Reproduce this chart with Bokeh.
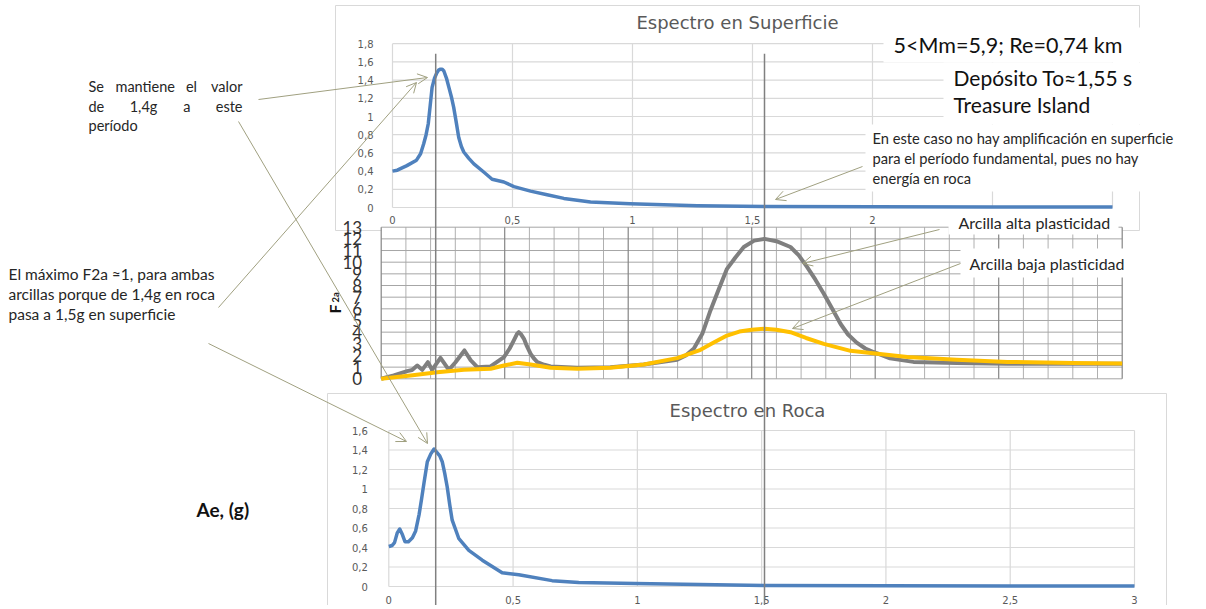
import numpy as np
from bokeh.plotting import figure
from bokeh.models import Range1d, Arrow, OpenHead
from bokeh.core.properties import value
from bokeh.embed import file_html
from bokeh.resources import INLINE

# ---------------- data ----------------
# Espectro en Superficie (period s, Sa g)
SUP_T = [0, 0.02, 0.06, 0.10, 0.117, 0.13, 0.14, 0.149, 0.157, 0.165, 0.175, 0.183, 0.192, 0.20,
         0.207, 0.214, 0.225, 0.235, 0.245, 0.255, 0.266, 0.276, 0.287, 0.297, 0.318, 0.339, 0.38, 0.415,
         0.464, 0.506, 0.575, 0.644, 0.714, 0.825, 0.99, 1.27, 1.55, 2.0, 2.5, 3.0]
SUP_SA = [0.40, 0.41, 0.46, 0.52, 0.59, 0.70, 0.80, 0.92, 1.12, 1.32, 1.42, 1.47, 1.51, 1.52,
          1.52, 1.50, 1.42, 1.32, 1.22, 1.10, 0.93, 0.77, 0.67, 0.61, 0.54, 0.48, 0.39, 0.31,
          0.28, 0.23, 0.18, 0.14, 0.10, 0.06, 0.04, 0.02, 0.01, 0.008, 0.006, 0.005]

# Espectro en Roca
ROC_T = [0, 0.013, 0.023, 0.034, 0.044, 0.055, 0.065, 0.079, 0.095, 0.108,
         0.122, 0.132, 0.142, 0.155, 0.169, 0.182, 0.195, 0.205, 0.215, 0.225, 0.235, 0.245, 0.255,
         0.282, 0.322, 0.376, 0.456, 0.523, 0.657, 0.764, 0.99, 1.53, 2.0, 2.5, 3.0]
ROC_SA = [0.41, 0.42, 0.45, 0.55, 0.59, 0.53, 0.46, 0.46, 0.50, 0.57,
          0.74, 0.90, 1.07, 1.28, 1.36, 1.41, 1.37, 1.34, 1.28, 1.16, 1.02, 0.84, 0.68,
          0.49, 0.37, 0.27, 0.14, 0.12, 0.06, 0.04, 0.03, 0.01, 0.007, 0.005, 0.004]

# F2a - Arcilla alta plasticidad
ALTA_T = [0, 0.051, 0.105, 0.125, 0.146, 0.166, 0.189, 0.206, 0.240, 0.274,
          0.300, 0.337, 0.362, 0.389, 0.443, 0.497, 0.52, 0.537, 0.55, 0.557,
          0.565, 0.578, 0.59, 0.605, 0.62, 0.632, 0.66, 0.686, 0.794, 0.928,
          1.063, 1.198, 1.233, 1.266, 1.30, 1.333, 1.367, 1.40, 1.434, 1.468,
          1.51, 1.552, 1.60, 1.657, 1.69, 1.724, 1.758, 1.792, 1.826, 1.86,
          1.89, 1.925, 1.96, 1.993, 2.06, 2.155, 2.33, 2.535, 2.8, 3.0]
ALTA_F = [0, 0.29, 0.66, 0.75, 1.14, 0.77, 1.43, 0.77, 1.8, 0.77,
          1.4, 2.43, 1.6, 1.0, 1.06, 1.86, 2.6, 3.3, 3.85, 4.0,
          3.85, 3.43, 2.8, 2.14, 1.7, 1.43, 1.2, 1.06, 0.94, 1.0,
          1.23, 1.63, 2.0, 2.6, 3.86, 5.86, 7.7, 9.43, 10.4, 11.3,
          11.85, 12.0, 11.8, 11.3, 10.6, 9.6, 8.5, 7.3, 6.0, 4.7,
          3.8, 3.1, 2.6, 2.3, 1.75, 1.45, 1.35, 1.3, 1.3, 1.3]

# F2a - Arcilla baja plasticidad
BAJA_T = [0, 0.119, 0.227, 0.335, 0.443, 0.497, 0.551, 0.605, 0.686, 0.794,
          0.928, 1.063, 1.198, 1.293, 1.35, 1.40, 1.45, 1.50, 1.552, 1.60,
          1.657, 1.72, 1.792, 1.90, 2.0, 2.13, 2.33, 2.535, 2.8, 3.0]
BAJA_F = [0, 0.29, 0.57, 0.77, 0.86, 1.14, 1.37, 1.23, 0.94, 0.86,
          0.94, 1.23, 1.77, 2.49, 3.15, 3.71, 4.05, 4.2, 4.29, 4.2,
          4.0, 3.5, 3.0, 2.4, 2.16, 1.87, 1.63, 1.45, 1.35, 1.32]

# axes ticks / labels
TOP_Y_TICKS = [0, 0.2, 0.4, 0.6, 0.8, 1.0, 1.2, 1.4, 1.6, 1.8]
TOP_Y_LABELS = ["0", "0,2", "0,4", "0,6", "0,8", "1", "1,2", "1,4", "1,6", "1,8"]
TOP_X_TICKS = [0, 0.5, 1.0, 1.5, 2.0, 2.5, 3.0]
TOP_X_LABEL_TICKS = [0, 0.5, 1.0, 1.5, 2.0]
TOP_X_LABELS = ["0", "0,5", "1", "1,5", "2"]

BOT_Y_TICKS = [0, 0.2, 0.4, 0.6, 0.8, 1.0, 1.2, 1.4, 1.6]
BOT_Y_LABELS = ["0", "0,2", "0,4", "0,6", "0,8", "1", "1,2", "1,4", "1,6"]
BOT_X_TICKS = [0, 0.5, 1.0, 1.5, 2.0, 2.5, 3.0]
BOT_X_LABELS = ["0", "0,5", "1", "1,5", "2", "2,5", "3"]

MID_X_MINOR = [0.1, 0.2, 0.3, 0.4, 0.6, 0.7, 0.8, 0.9, 1.1, 1.2, 1.3, 1.4,
               1.6, 1.7, 1.8, 1.9, 2.1, 2.2, 2.3, 2.4, 2.6, 2.7, 2.8, 2.9]
MID_X_MAJOR = [0, 0.5, 1.0, 1.5, 2.0, 2.5, 3.0]
MID_Y_TICKS = [0, 1, 2, 3, 4, 5, 6, 7, 8, 9, 10, 11, 12, 13]
MID_Y_LABELS = [str(v) for v in MID_Y_TICKS]

T0_LINES = [0.18, 1.55]   # periods marked with vertical reference lines

# ---------------- figure ----------------
W, H = 1200, 605
X0, Y0 = 0, 0
p = figure(width=W, height=H, x_range=Range1d(X0, X0 + W), y_range=Range1d(Y0 + H, Y0),
           output_backend="svg", toolbar_location=None, min_border=0,
           x_axis_type=None, y_axis_type=None)
p.outline_line_color = None
p.background_fill_color = "white"
p.border_fill_color = "white"


def xmap(d0, d1, p0, p1):
    s = (d1 - d0) / (p1 - p0)
    return Range1d(d0 + (X0 - p0) * s, d0 + (X0 + W - p0) * s)


def ymap(d0, d1, p0, p1):
    s = (d1 - d0) / (p0 - p1)
    return Range1d(d0 + (p0 - (Y0 + H)) * s, d0 + (p0 - Y0) * s)


p.extra_x_ranges = {"tx": xmap(0, 3, 392, 1112),
                    "mx": xmap(0, 3, 380.7, 1121.7),
                    "bx": xmap(0, 3, 388.3, 1134)}
p.extra_y_ranges = {"ty": ymap(0, 1.8, 207, 43.2),
                    "my": ymap(0, 13, 378.3, 226.7),
                    "by": ymap(0, 1.6, 586, 430)}

GRID = "#d9d9d9"
TICK = "#595959"
BLUE = "#4f81bd"
ARROW = "#a0a080"
NOTE = "#262626"


def txt(x, y, s, size, font="Lato", color=NOTE, align="left", baseline="middle",
        style="normal", **kw):
    p.text(x=x if isinstance(x, list) else [x], y=y if isinstance(y, list) else [y],
           text=s if isinstance(s, list) else [s],
           text_font=value(font), text_font_size=size, text_color=color,
           text_align=align, text_baseline=baseline, text_font_style=style, **kw)


# ---------- top chart: Espectro en Superficie ----------
p.quad(left=335, right=1139, top=5, bottom=230, fill_color="white", line_color=GRID, line_width=1)
n = len(TOP_Y_TICKS)
p.segment(x0=[0] * n, x1=[3] * n, y0=TOP_Y_TICKS, y1=TOP_Y_TICKS, line_color=GRID,
          line_width=1.2, x_range_name="tx", y_range_name="ty")
m = len(TOP_X_TICKS)
p.segment(x0=TOP_X_TICKS, x1=TOP_X_TICKS, y0=[0] * m, y1=[1.8] * m, line_color=GRID,
          line_width=1.2, x_range_name="tx", y_range_name="ty")
p.line(SUP_T, SUP_SA, line_color=BLUE, line_width=3.5, line_join="round",
       x_range_name="tx", y_range_name="ty")
txt([0] * n, TOP_Y_TICKS, TOP_Y_LABELS, "10px", font="DejaVu Sans", color=TICK,
    align="right", x_offset=-19, x_range_name="tx", y_range_name="ty")
txt(TOP_X_LABEL_TICKS, [0] * len(TOP_X_LABEL_TICKS), TOP_X_LABELS, "10px", font="DejaVu Sans",
    color=TICK, align="center", y_offset=12, x_range_name="tx", y_range_name="ty")
txt(737, 22, "Espectro en Superficie", "18px", font="DejaVu Sans", color=TICK, align="center")

# ---------- bottom chart: Espectro en Roca ----------
p.quad(left=327, right=1166, top=393, bottom=640, fill_color="white", line_color=GRID, line_width=1)
n = len(BOT_Y_TICKS)
p.segment(x0=[0] * n, x1=[3] * n, y0=BOT_Y_TICKS, y1=BOT_Y_TICKS, line_color=GRID,
          line_width=1.2, x_range_name="bx", y_range_name="by")
m = len(BOT_X_TICKS)
p.segment(x0=BOT_X_TICKS, x1=BOT_X_TICKS, y0=[0] * m, y1=[1.6] * m, line_color=GRID,
          line_width=1.2, x_range_name="bx", y_range_name="by")
p.line(ROC_T, ROC_SA, line_color=BLUE, line_width=3.5, line_join="round",
       x_range_name="bx", y_range_name="by")
txt([0] * n, BOT_Y_TICKS, BOT_Y_LABELS, "10px", font="DejaVu Sans", color=TICK,
    align="right", x_offset=-21, x_range_name="bx", y_range_name="by")
txt(BOT_X_TICKS, [0] * m, BOT_X_LABELS, "10px", font="DejaVu Sans", color=TICK,
    align="center", y_offset=13, x_range_name="bx", y_range_name="by")
txt(747, 410, "Espectro en Roca", "18px", font="DejaVu Sans", color=TICK, align="center")

# ---------- middle chart: F2a ----------
p.quad(left=381, right=1122, top=225, bottom=379, fill_color="white", line_color=None)
k = len(MID_X_MINOR)
p.segment(x0=MID_X_MINOR, x1=MID_X_MINOR, y0=[0] * k, y1=[13] * k, line_color="#b0b0b0",
          line_width=1, x_range_name="mx", y_range_name="my")
k = len(MID_Y_TICKS)
p.segment(x0=[0] * k, x1=[3] * k, y0=MID_Y_TICKS, y1=MID_Y_TICKS, line_color="#a6a6a6",
          line_width=1, x_range_name="mx", y_range_name="my")
k = len(MID_X_MAJOR)
p.segment(x0=MID_X_MAJOR, x1=MID_X_MAJOR, y0=[0] * k, y1=[13] * k, line_color="#858585",
          line_width=1.2, x_range_name="mx", y_range_name="my")
p.line(ALTA_T, ALTA_F, line_color="#7f7f7f", line_width=4, line_join="round",
       x_range_name="mx", y_range_name="my")
p.line(BAJA_T, BAJA_F, line_color="#ffc000", line_width=4, line_join="round",
       x_range_name="mx", y_range_name="my")
txt([0] * len(MID_Y_TICKS), MID_Y_TICKS, MID_Y_LABELS, "17px", color="#333333",
    align="right", x_offset=-19, x_range_name="mx", y_range_name="my")
txt(334, 313, "F", "16px", color="#111111", style="bold", baseline="alphabetic", angle=np.pi / 2)
txt(335, 302, "2a", "9.5px", color="#111111", style="bold", baseline="alphabetic", angle=np.pi / 2)

# ---------- reference period lines ----------
p.segment(x0=T0_LINES, x1=T0_LINES, y0=[1.69] * 2, y1=[-4.6] * 2, line_color="#808080",
          line_width=1.5, x_range_name="tx", y_range_name="ty")

# ---------- text boxes ----------
p.quad(left=[883, 943, 865, 948, 960], right=[1185, 1185, 1185, 1118, 1132],
       top=[27, 62, 124, 209, 248], bottom=[62, 124, 191, 234, 277],
       fill_color="white", line_color=None)
txt(893, 44, "5<Mm=5,9; Re=0,74 km", "21.5px", color="#111111")
txt(953, 77, "Depósito To≈1,55 s", "21px", color="#111111")
txt(953, 104, "Treasure Island", "21px", color="#111111")
txt(872, 137, "En este caso no hay amplificación en superficie", "14.7px")
txt(872, 157, "para el período fundamental, pues no hay", "14.7px")
txt(872, 177, "energía en roca", "14.7px")
txt(958, 222, "Arcilla alta plasticidad", "16px")
txt(969, 263, "Arcilla baja plasticidad", "16px")

# left notes (justified paragraph)
txt(88, 86, "Se", "14.5px")
txt(144.7, 86, "mantiene", "14.5px", align="center")
txt(191, 86, "el", "14.5px", align="center")
txt(242, 86, "valor", "14.5px", align="right")
txt(88, 106, "de", "14.5px")
txt(143, 106, "1,4g", "14.5px", align="center")
txt(186.4, 106, "a", "14.5px", align="center")
txt(242, 106, "este", "14.5px", align="right")
txt(88, 125, "período", "14.5px")

txt(8, 273, "El máximo  F2a ≈1,  para ambas", "15.5px")
txt(8, 293, "arcillas porque de 1,4g en roca", "15.5px")
txt(8, 313, "pasa a 1,5g en superficie", "15.5px")

txt(196, 509, "Ae, (g)", "19px", color="#111111", style="bold")

# ---------- arrows ----------
ARROWS = [((258, 99), (427, 77)),
          ((238, 121), (427, 443)),
          ((208, 343), (406, 441)),
          ((218, 307), (416, 82)),
          ((862, 166), (775, 199)),
          ((939, 229), (802, 263)),
          ((960, 263), (792, 328))]
for (xs, ys), (xe, ye) in ARROWS:
    p.add_layout(Arrow(end=OpenHead(size=10, line_color=ARROW, line_width=1),
                       x_start=xs, y_start=ys, x_end=xe, y_end=ye,
                       line_color=ARROW, line_width=1))

open("out.html", "w").write(file_html(p, INLINE))
